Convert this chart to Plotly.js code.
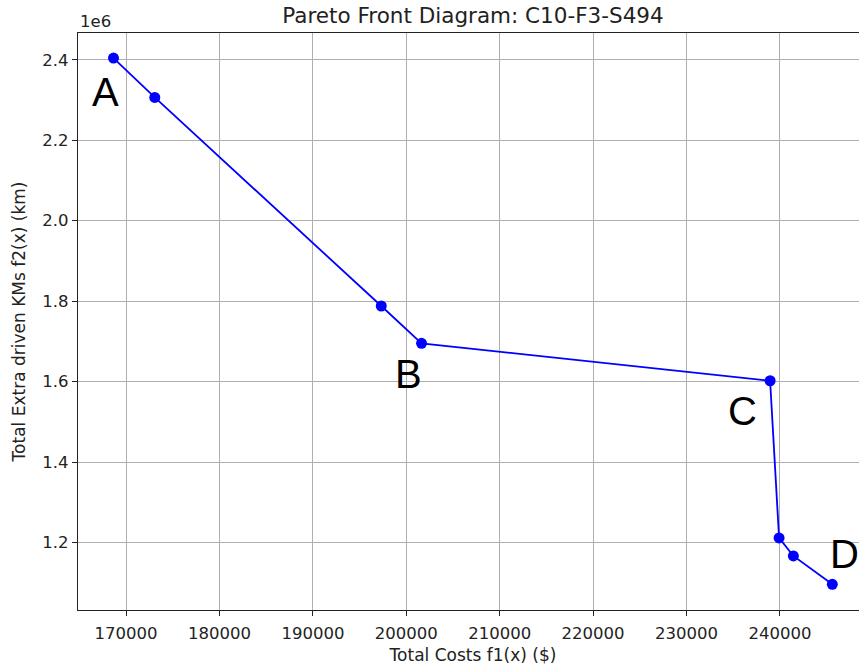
<!DOCTYPE html>
<html>
<head>
<meta charset="utf-8">
<script src="https://cdn.plot.ly/plotly-3.0.1.min.js"></script>
<style>html,body{margin:0;padding:0;overflow:hidden;background:#fff;}#chart{width:870px;height:670px;}</style>
</head>
<body>
<div id="chart"></div>
<script>
// Pareto front points: total costs ($) and total extra driven km
const costs = [168650, 173070, 197320, 201630, 238950, 239910, 241440, 245610];
const extraKm = [2404200, 2306200, 1788000, 1695300, 1602300, 1211700, 1166900, 1096500];

// Point labels (letter, cost position, km position)
const labelText = ["A", "B", "C", "D"];
const labelX = [167775, 200235, 236030, 246900];
const labelY = [2320400, 1618900, 1526900, 1171000];

// Axis ticks
const xTickVals = [170000, 180000, 190000, 200000, 210000, 220000, 230000, 240000];
const xTickText = ["170000", "180000", "190000", "200000", "210000", "220000", "230000", "240000"];
const yTickVals = [1200000, 1400000, 1600000, 1800000, 2000000, 2200000, 2400000];
const yTickText = ["1.2", "1.4", "1.6", "1.8", "2.0", "2.2", "2.4"];

const tickFont = {family: "DejaVu Sans", size: 16.5, color: "#222"};
const axisTitleFont = {family: "DejaVu Sans", size: 17, color: "#222"};

const trace = {
  x: costs, y: extraKm, type: "scatter", mode: "lines+markers",
  line: {color: "#0000ff", width: 1.8},
  marker: {color: "#0000ff", size: 11},
  hoverinfo: "skip"
};

const annotations = labelText.map((t, i) => ({
  x: labelX[i], y: labelY[i], xref: "x", yref: "y", text: t, showarrow: false,
  xanchor: "center", yanchor: "middle",
  font: {family: "Liberation Sans", size: 40, color: "#000"}
}));
annotations.push({
  x: 0, y: 1, xref: "paper", yref: "paper", text: "1e6", showarrow: false,
  xanchor: "left", yanchor: "bottom", yshift: 0,
  font: tickFont
});

const layout = {
  width: 870, height: 670, autosize: false,
  margin: {l: 78, r: 2, t: 33, b: 60},
  paper_bgcolor: "#fff", plot_bgcolor: "#fff",
  showlegend: false,
  title: {text: "Pareto Front Diagram: C10-F3-S494", x: 473/870, xanchor: "center", y: 1 - 15/670, yanchor: "middle",
          font: {family: "DejaVu Sans", size: 21.5, color: "#222"}},
  xaxis: {
    range: [164850, 249430], tickmode: "array", tickvals: xTickVals, ticktext: xTickText,
    showgrid: true, gridcolor: "#b0b0b0", gridwidth: 1, zeroline: false,
    showline: true, linecolor: "#222", linewidth: 1.2, mirror: true,
    ticks: "outside", ticklen: 5, tickcolor: "#222", tickfont: tickFont, ticklabelstandoff: 3,
    title: {text: "Total Costs f1(x) ($)", font: axisTitleFont, standoff: 7}
  },
  yaxis: {
    range: [1032600, 2466400], tickmode: "array", tickvals: yTickVals, ticktext: yTickText,
    showgrid: true, gridcolor: "#b0b0b0", gridwidth: 1, zeroline: false,
    showline: true, linecolor: "#222", linewidth: 1.2, mirror: true,
    ticks: "outside", ticklen: 5, tickcolor: "#222", tickfont: tickFont,
    title: {text: "Total Extra driven KMs f2(x) (km)", font: axisTitleFont, standoff: 12}
  },
  annotations: annotations
};

Plotly.newPlot("chart", [trace], layout, {staticPlot: true, displayModeBar: false});
</script>
</body>
</html>
